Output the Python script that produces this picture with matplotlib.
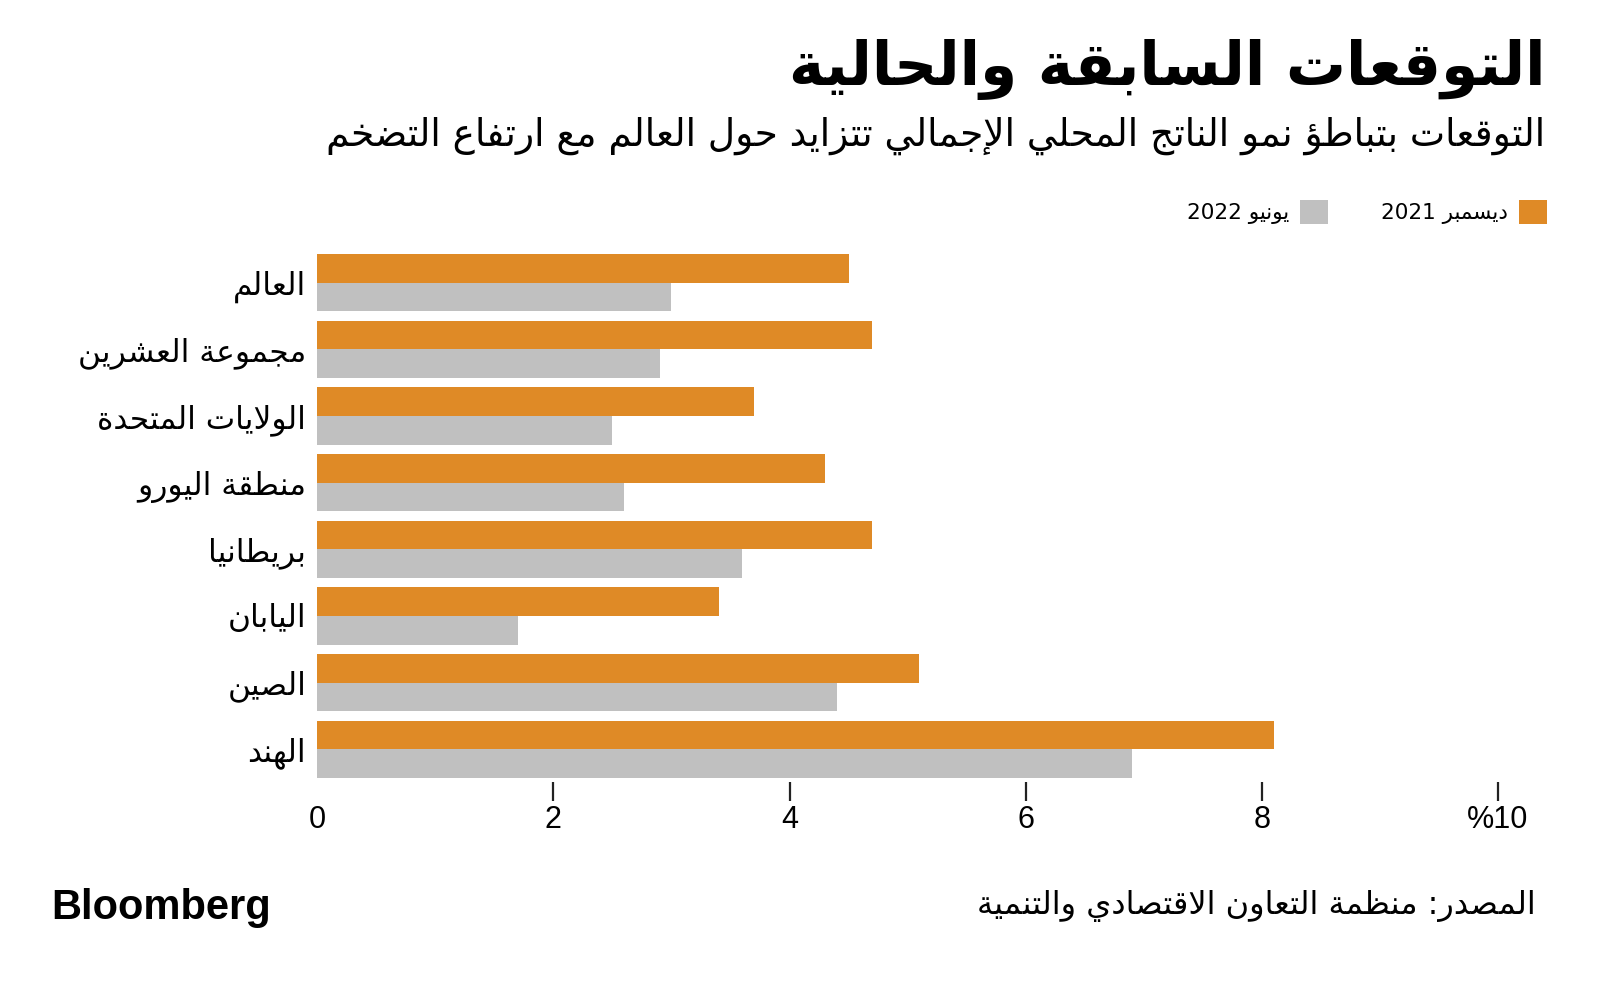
import re
import matplotlib
matplotlib.use("Agg")
import matplotlib.pyplot as plt
import numpy as np

# === Data ===
regions = ["العالم", "مجموعة العشرين", "الولايات المتحدة", "منطقة اليورو",
           "بريطانيا", "اليابان", "الصين", "الهند"]
dec_2021 = [4.5, 4.7, 3.7, 4.3, 4.7, 3.4, 5.1, 8.1]
jun_2022 = [3.0, 2.9, 2.5, 2.6, 3.6, 1.7, 4.4, 6.9]
series_names = ["ديسمبر 2021", "يونيو 2022"]
x_ticks = [0, 2, 4, 6, 8, 10]
x_ticklabels = ["0", "2", "4", "6", "8", "10%"]

title = "التوقعات السابقة والحالية"
subtitle = "التوقعات بتباطؤ نمو الناتج المحلي الإجمالي تتزايد حول العالم مع ارتفاع التضخم"
source = "المصدر: منظمة التعاون الاقتصادي والتنمية"

ORANGE = "#DF8A26"
GREY = "#C0C0C0"

# === Arabic shaping (matplotlib has no complex text layout) ===
# forms: isolated, final, initial, medial
FORMS = {
    "\u0621": ("\uFE80",),
    "\u0622": ("\uFE81", "\uFE82"), "\u0623": ("\uFE83", "\uFE84"),
    "\u0624": ("\uFE85", "\uFE86"), "\u0625": ("\uFE87", "\uFE88"),
    "\u0626": ("\uFE89", "\uFE8A", "\uFE8B", "\uFE8C"),
    "\u0627": ("\uFE8D", "\uFE8E"),
    "\u0628": ("\uFE8F", "\uFE90", "\uFE91", "\uFE92"),
    "\u0629": ("\uFE93", "\uFE94"),
    "\u062A": ("\uFE95", "\uFE96", "\uFE97", "\uFE98"),
    "\u062B": ("\uFE99", "\uFE9A", "\uFE9B", "\uFE9C"),
    "\u062C": ("\uFE9D", "\uFE9E", "\uFE9F", "\uFEA0"),
    "\u062D": ("\uFEA1", "\uFEA2", "\uFEA3", "\uFEA4"),
    "\u062E": ("\uFEA5", "\uFEA6", "\uFEA7", "\uFEA8"),
    "\u062F": ("\uFEA9", "\uFEAA"), "\u0630": ("\uFEAB", "\uFEAC"),
    "\u0631": ("\uFEAD", "\uFEAE"), "\u0632": ("\uFEAF", "\uFEB0"),
    "\u0633": ("\uFEB1", "\uFEB2", "\uFEB3", "\uFEB4"),
    "\u0634": ("\uFEB5", "\uFEB6", "\uFEB7", "\uFEB8"),
    "\u0635": ("\uFEB9", "\uFEBA", "\uFEBB", "\uFEBC"),
    "\u0636": ("\uFEBD", "\uFEBE", "\uFEBF", "\uFEC0"),
    "\u0637": ("\uFEC1", "\uFEC2", "\uFEC3", "\uFEC4"),
    "\u0638": ("\uFEC5", "\uFEC6", "\uFEC7", "\uFEC8"),
    "\u0639": ("\uFEC9", "\uFECA", "\uFECB", "\uFECC"),
    "\u063A": ("\uFECD", "\uFECE", "\uFECF", "\uFED0"),
    "\u0641": ("\uFED1", "\uFED2", "\uFED3", "\uFED4"),
    "\u0642": ("\uFED5", "\uFED6", "\uFED7", "\uFED8"),
    "\u0643": ("\uFED9", "\uFEDA", "\uFEDB", "\uFEDC"),
    "\u0644": ("\uFEDD", "\uFEDE", "\uFEDF", "\uFEE0"),
    "\u0645": ("\uFEE1", "\uFEE2", "\uFEE3", "\uFEE4"),
    "\u0646": ("\uFEE5", "\uFEE6", "\uFEE7", "\uFEE8"),
    "\u0647": ("\uFEE9", "\uFEEA", "\uFEEB", "\uFEEC"),
    "\u0648": ("\uFEED", "\uFEEE"), "\u0649": ("\uFEEF", "\uFEF0"),
    "\u064A": ("\uFEF1", "\uFEF2", "\uFEF3", "\uFEF4"),
}
LAM_ALEF = {"\u0622": ("\uFEF5", "\uFEF6"), "\u0623": ("\uFEF7", "\uFEF8"),
            "\u0625": ("\uFEF9", "\uFEFA"), "\u0627": ("\uFEFB", "\uFEFC")}


def shape(s):
    toks = []
    i = 0
    while i < len(s):
        c = s[i]
        if c == "\u0644" and i + 1 < len(s) and s[i + 1] in LAM_ALEF:
            toks.append(LAM_ALEF[s[i + 1]])
            i += 2
        elif c in FORMS:
            toks.append(FORMS[c])
            i += 1
        else:
            toks.append(c)
            i += 1
    out = []
    for j, t in enumerate(toks):
        if not isinstance(t, tuple):
            out.append(t)
            continue
        prev = toks[j - 1] if j > 0 else None
        nxt = toks[j + 1] if j + 1 < len(toks) else None
        jp = isinstance(prev, tuple) and len(prev) == 4 and len(t) >= 2
        jn = len(t) == 4 and isinstance(nxt, tuple) and len(nxt) >= 2
        k = 3 if (jp and jn) else 1 if jp else 2 if jn else 0
        out.append(t[k])
    return "".join(out)


def ar(s):
    # shape, then lay out right-to-left keeping digit/latin runs in order
    parts = re.split(r"([0-9A-Za-z]+(?:[.,][0-9]+)*)", shape(s))
    vis = []
    for k, p in enumerate(parts):
        vis.append(p if k % 2 else p[::-1])
    return "".join(vis[::-1])


# === Figure ===
fig = plt.figure(figsize=(16, 9.88), dpi=100)
ax = fig.add_axes([0.1983, 0.2087, 0.9362 - 0.1983, 0.7428 - 0.2087])

y = np.arange(len(regions))
h = 0.43
b1 = ax.barh(y - h / 2, dec_2021, height=h, color=ORANGE, label=ar(series_names[0]))
b2 = ax.barh(y + h / 2, jun_2022, height=h, color=GREY, label=ar(series_names[1]))

ax.set_xlim(0, 10)
ax.set_ylim(7.49, -0.43)
for s in ax.spines.values():
    s.set_visible(False)

ax.set_xticks(x_ticks)
ax.set_xticklabels([ar(t) for t in x_ticklabels], fontsize=22,
                   family=["Liberation Sans", "DejaVu Sans"])
ax.tick_params(axis="x", length=14, width=1.6, color="#222222", pad=3)
ax.xaxis.get_major_ticks()[0].tick1line.set_visible(False)

ax.set_yticks(y)
ax.set_yticklabels([ar(r) for r in regions], fontsize=22.5)
ax.tick_params(axis="y", length=0, pad=8)

# legend (RTL: square on the right of text)
leg = fig.legend(handles=[b2, b1], loc="center right", bbox_to_anchor=(0.979, 0.785),
                 ncol=2, markerfirst=False, frameon=False, fontsize=15.5,
                 handlelength=1.3, handleheight=1.3, handletextpad=0.5,
                 columnspacing=2.5)

fig.text(0.966, 0.930, ar(title), ha="right", va="center", fontsize=43, fontweight="bold")
fig.text(0.966, 0.863, ar(subtitle), ha="right", va="center", fontsize=27)
fig.text(0.960, 0.083, ar(source), ha="right", va="center", fontsize=23)
fig.text(0.032, 0.081, "Bloomberg", ha="left", va="center", fontsize=30,
         fontweight="bold", family=["Liberation Sans", "DejaVu Sans"])

fig.savefig("out.png", dpi=100, facecolor="white")
